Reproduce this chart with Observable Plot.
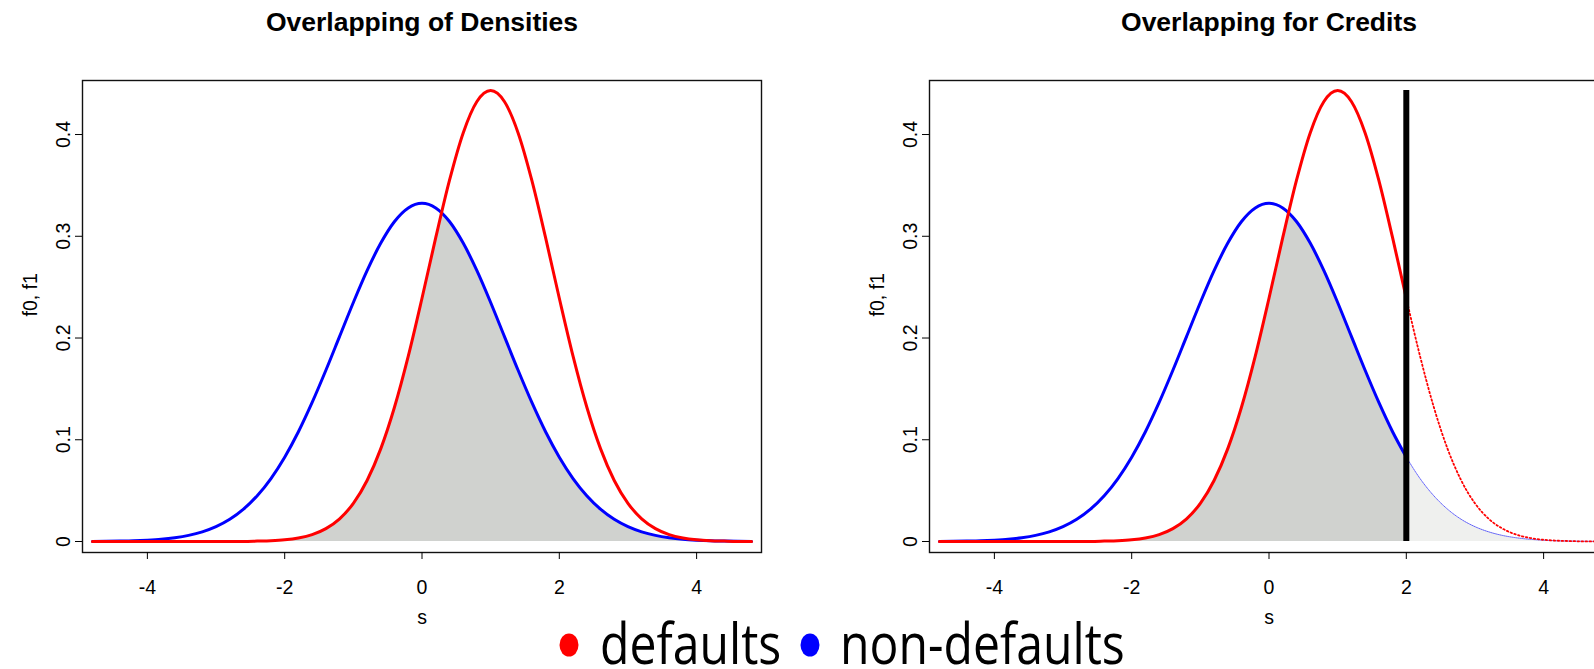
<!DOCTYPE html>
<html><head><meta charset="utf-8">
<script src="https://cdn.jsdelivr.net/npm/d3@7"></script>
<script src="https://cdn.jsdelivr.net/npm/@observablehq/plot@0.6"></script>
<style>
html,body{margin:0;padding:0;background:#fff;overflow:hidden;}
#wrap{position:relative;width:1594px;height:669px;overflow:hidden;}
.panel{position:absolute;top:0;width:847px;height:669px;}
.panel svg{max-width:none !important;}
#legend{position:absolute;left:0;top:0;}
</style></head>
<body><div id="wrap"><div class="panel" id="p1" style="left:0px"></div><div class="panel" id="p2" style="left:847px"></div>
<svg id="legend" width="1594" height="669"></svg></div>
<script>
// score grid (s) and the two densities
const s  = [-4.8,-4.6,-4.4,-4.2,-4.0,-3.8,-3.6,-3.4,-3.2,-3.0,-2.8,-2.6,-2.4,-2.2,-2.0,-1.8,-1.6,-1.4,-1.2,-1.0,-0.8,-0.6,-0.4,-0.2,0.0,
            0.2,0.4,0.6,0.8,1.0,1.2,1.4,1.6,1.8,2.0,2.2,2.4,2.6,2.8,3.0,3.2,3.4,3.6,3.8,4.0,4.2,4.4,4.6,4.8];
// f0: non-defaults (blue)
const f0 = [0.0001,0.0002,0.0004,0.0007,0.0013,0.0022,0.0037,0.0060,0.0095,0.0146,0.0218,0.0318,0.0450,0.0619,0.0829,0.1079,0.1367,0.1683,0.2016,0.2349,0.2662,0.2933,0.3145,0.3278,0.3324,
            0.3278,0.3145,0.2933,0.2662,0.2349,0.2016,0.1683,0.1367,0.1079,0.0829,0.0619,0.0450,0.0318,0.0218,0.0146,0.0095,0.0060,0.0037,0.0022,0.0013,0.0007,0.0004,0.0002,0.0001];
// f1: defaults (red)
const f1 = [0,0,0,0,0,0,0,0,0,0,0.0001,0.0001,0.0004,0.0008,0.0017,0.0035,0.0068,0.0127,0.0223,0.0375,0.0600,0.0913,0.1322,0.1822,0.2391,
            0.2986,0.3549,0.4016,0.4325,0.4433,0.4325,0.4016,0.3549,0.2986,0.2391,0.1822,0.1322,0.0913,0.0600,0.0375,0.0223,0.0127,0.0068,0.0035,0.0017,0.0008,0.0004,0.0001,0.0001];
const xTicks = [-4,-2,0,2,4];
const yTicks = [0,0.1,0.2,0.3,0.4];
const yTickLabels = ["0","0.1","0.2","0.3","0.4"];
const titles = ["Overlapping of Densities","Overlapping for Credits"];
const cutoff = 2;
const legendLabels = ["defaults","non-defaults"];
const legendColors = ["#ff0000","#0000ff"];

const rows = s.map((x,i)=>({s:x, f0:f0[i], f1:f1[i]}));
const xDom = [-4.945, 4.945];
const yDom = [-0.0108, 0.4531];
const RED = "#ff0000", BLUE = "#0000ff", GRAY = "#d0d2cf", LIGHT = "#eff0ee";
const FONT = "'Liberation Sans', Arial, Helvetica, sans-serif";
const curve = "monotone-x";

function panel(title, withCut) {
  const marks = [];
  if (!withCut) {
    marks.push(Plot.areaY(rows, {x:"s", y:"f1", fill:GRAY, curve}));
  } else {
    marks.push(Plot.areaY(rows.filter(d=>d.s<=cutoff), {x:"s", y:"f1", fill:GRAY, curve}));
    marks.push(Plot.areaY(rows.filter(d=>d.s>=cutoff), {x:"s", y:"f1", fill:LIGHT, curve}));
  }
  // keep only the overlap (below both curves)
  marks.push(Plot.areaY(rows, {x:"s", y1:"f0", y2:yDom[1], fill:"white", curve}));
  if (!withCut) {
    marks.push(Plot.line(rows, {x:"s", y:"f0", stroke:BLUE, strokeWidth:3, curve}));
    marks.push(Plot.line(rows, {x:"s", y:"f1", stroke:RED, strokeWidth:3, curve}));
  } else {
    const lo = rows.filter(d=>d.s<=cutoff), hi = rows.filter(d=>d.s>=cutoff);
    marks.push(Plot.line(lo, {x:"s", y:"f0", stroke:BLUE, strokeWidth:3, curve}));
    marks.push(Plot.line(lo, {x:"s", y:"f1", stroke:RED, strokeWidth:3, curve}));
    marks.push(Plot.line(hi, {x:"s", y:"f0", stroke:BLUE, strokeWidth:1, strokeOpacity:0.6, strokeDasharray:"1,1", curve}));
    marks.push(Plot.line(hi, {x:"s", y:"f1", stroke:RED, strokeWidth:1.8, strokeDasharray:"1.5,2.5", curve}));
    marks.push(Plot.ruleX([cutoff], {y1:0, y2:d3.max(f1), stroke:"black", strokeWidth:6}));
  }
  marks.push(Plot.frame({stroke:"#111", strokeWidth:1.4}));
  marks.push(Plot.axisX({ticks:xTicks, tickSize:7, tickPadding:21, fontSize:19.5, label:null, tickFormat:d=>String(d)}));
  marks.push(Plot.axisY({ticks:yTicks, tickSize:7, tickFormat:()=>"", label:null}));
  marks.push(Plot.text(yTicks, {y:d=>d, text:(d,i)=>yTickLabels[i], frameAnchor:"left", dx:-19, rotate:-90, textAnchor:"middle", lineAnchor:"middle", fontSize:19.5, fill:"#000"}));
  marks.push(Plot.text([title], {frameAnchor:"top", dy:-58, fontWeight:"bold", fontSize:26.5, lineAnchor:"middle", fill:"#000"}));
  marks.push(Plot.text(["s"], {frameAnchor:"bottom", dy:65, fontSize:19.5, lineAnchor:"middle", fill:"#000"}));
  marks.push(Plot.text(["f0, f1"], {frameAnchor:"left", dx:-52, rotate:-90, fontSize:19.5, lineAnchor:"middle", fill:"#000"}));
  return Plot.plot({
    width:847, height:669,
    marginLeft:82, marginRight:86, marginTop:80, marginBottom:117,
    x:{domain:xDom}, y:{domain:yDom},
    style:{fontFamily:FONT, background:"transparent", color:"#000", overflow:"visible", maxWidth:"none"},
    marks
  });
}
document.getElementById("p1").appendChild(panel(titles[0], false));
document.getElementById("p2").appendChild(panel(titles[1], true));

// legend
const lg = d3.select("#legend");
const legendX = [600, 840];
const dotX = [569, 810];
legendLabels.forEach((lab,i)=>{
  lg.append("ellipse").attr("cx",dotX[i]).attr("cy",645).attr("rx",9.5).attr("ry",11.5).attr("fill",legendColors[i]);
  lg.append("text").attr("transform",`translate(${legendX[i]},664) scale(0.86,1)`)
    .attr("font-family","'Open Sans','Noto Sans',sans-serif").attr("font-size",56).attr("fill","#000").text(lab);
});
</script></body></html>
